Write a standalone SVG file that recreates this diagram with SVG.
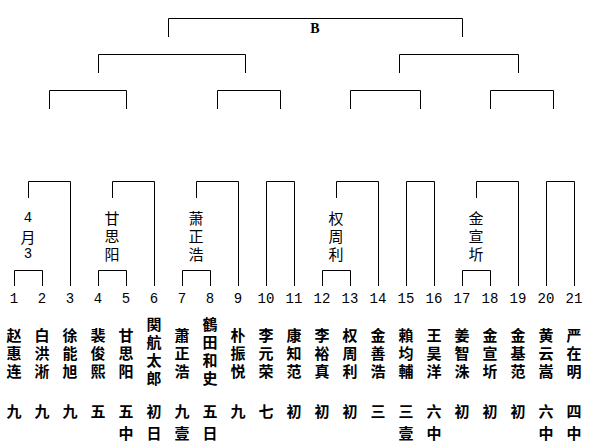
<svg xmlns="http://www.w3.org/2000/svg" width="596" height="441" viewBox="0 0 596 441">
<style>
.ln{fill:none;stroke:#000;stroke-width:1}
.num{font-family:"Liberation Mono","DejaVu Sans Mono",monospace;font-size:14px;text-anchor:middle;fill:#000}
.nm{font-family:"Noto Sans CJK SC","Noto Sans CJK JP",sans-serif;font-size:15px;font-weight:bold;text-anchor:middle;dominant-baseline:central;fill:#000}
.lb{font-family:"Noto Sans CJK SC","Noto Sans CJK JP",sans-serif;font-size:15px;text-anchor:middle;dominant-baseline:central;fill:#000}
.lbn{font-family:"Liberation Mono","DejaVu Sans Mono",monospace;font-size:14px;text-anchor:middle;dominant-baseline:central;fill:#000}
.b{font-family:"Liberation Serif",serif;font-size:14px;font-weight:bold;text-anchor:middle;dominant-baseline:central;fill:#000}
</style>
<rect width="596" height="441" fill="#fff"/>
<g id="connectors">
<path class="ln" d="M168.5,37V18.5H462.5V37"/>
<path class="ln" d="M98.5,73V54.5H245.5V73"/>
<path class="ln" d="M399.5,73V54.5H518.5V73"/>
<path class="ln" d="M49.5,109V90.5H126.5V109"/>
<path class="ln" d="M217.5,109V90.5H280.5V109"/>
<path class="ln" d="M350.5,109V90.5H420.5V109"/>
<path class="ln" d="M490.5,109V90.5H553.5V109"/>
<path class="ln" d="M14.5,286V270.5H42.5V286"/>
<path class="ln" d="M28.5,198V181.5H70.5V286"/>
<path class="ln" d="M98.5,286V270.5H126.5V286"/>
<path class="ln" d="M112.5,198V181.5H154.5V286"/>
<path class="ln" d="M182.5,286V270.5H210.5V286"/>
<path class="ln" d="M196.5,198V181.5H238.5V286"/>
<path class="ln" d="M266.5,286V181.5H294.5V286"/>
<path class="ln" d="M322.5,286V270.5H350.5V286"/>
<path class="ln" d="M336.5,198V181.5H378.5V286"/>
<path class="ln" d="M406.5,286V181.5H434.5V286"/>
<path class="ln" d="M462.5,286V270.5H490.5V286"/>
<path class="ln" d="M476.5,198V181.5H518.5V286"/>
<path class="ln" d="M546.5,286V181.5H574.5V286"/>
</g>
<g id="title"><text class="b" x="315" y="28">B</text></g>
<g id="labels">
<g id="label-a"><text class="lbn" x="28" y="218">4</text><text class="lb" x="28" y="236">月</text><text class="lbn" x="28" y="254">3</text></g>
<g id="label-b"><text class="lb" x="112" y="217">甘</text><text class="lb" x="112" y="235">思</text><text class="lb" x="112" y="253">阳</text></g>
<g id="label-c"><text class="lb" x="196" y="217">萧</text><text class="lb" x="196" y="235">正</text><text class="lb" x="196" y="253">浩</text></g>
<g id="label-d"><text class="lb" x="336" y="217">权</text><text class="lb" x="336" y="235">周</text><text class="lb" x="336" y="253">利</text></g>
<g id="label-e"><text class="lb" x="476" y="217">金</text><text class="lb" x="476" y="235">宣</text><text class="lb" x="476" y="253">圻</text></g>
</g>
<g id="numbers">
<text class="num" x="14" y="303">1</text><text class="num" x="42" y="303">2</text><text class="num" x="70" y="303">3</text><text class="num" x="98" y="303">4</text><text class="num" x="126" y="303">5</text><text class="num" x="154" y="303">6</text><text class="num" x="182" y="303">7</text><text class="num" x="210" y="303">8</text><text class="num" x="238" y="303">9</text><text class="num" x="266" y="303">10</text><text class="num" x="294" y="303">11</text><text class="num" x="322" y="303">12</text><text class="num" x="350" y="303">13</text><text class="num" x="378" y="303">14</text><text class="num" x="406" y="303">15</text><text class="num" x="434" y="303">16</text><text class="num" x="462" y="303">17</text><text class="num" x="490" y="303">18</text><text class="num" x="518" y="303">19</text><text class="num" x="546" y="303">20</text><text class="num" x="574" y="303">21</text>
</g>
<g id="p1"><text class="nm" x="14" y="334">赵</text><text class="nm" x="14" y="352">惠</text><text class="nm" x="14" y="370">连</text><text class="nm" x="14" y="410">九</text></g>
<g id="p2"><text class="nm" x="42" y="334">白</text><text class="nm" x="42" y="352">洪</text><text class="nm" x="42" y="370">淅</text><text class="nm" x="42" y="410">九</text></g>
<g id="p3"><text class="nm" x="70" y="334">徐</text><text class="nm" x="70" y="352">能</text><text class="nm" x="70" y="370">旭</text><text class="nm" x="70" y="410">九</text></g>
<g id="p4"><text class="nm" x="98" y="334">裴</text><text class="nm" x="98" y="352">俊</text><text class="nm" x="98" y="370">熙</text><text class="nm" x="98" y="410">五</text></g>
<g id="p5"><text class="nm" x="126" y="334">甘</text><text class="nm" x="126" y="352">思</text><text class="nm" x="126" y="370">阳</text><text class="nm" x="126" y="410">五</text><text class="nm" x="126" y="432">中</text></g>
<g id="p6"><text class="nm" x="154" y="323.5">関</text><text class="nm" x="154" y="341.5">航</text><text class="nm" x="154" y="359.5">太</text><text class="nm" x="154" y="377.5">郎</text><text class="nm" x="154" y="410">初</text><text class="nm" x="154" y="432">日</text></g>
<g id="p7"><text class="nm" x="182" y="334">蕭</text><text class="nm" x="182" y="352">正</text><text class="nm" x="182" y="370">浩</text><text class="nm" x="182" y="410">九</text><text class="nm" x="182" y="432">壹</text></g>
<g id="p8"><text class="nm" x="210" y="323.5">鶴</text><text class="nm" x="210" y="341.5">田</text><text class="nm" x="210" y="359.5">和</text><text class="nm" x="210" y="377.5">史</text><text class="nm" x="210" y="410">五</text><text class="nm" x="210" y="432">日</text></g>
<g id="p9"><text class="nm" x="238" y="334">朴</text><text class="nm" x="238" y="352">振</text><text class="nm" x="238" y="370">悦</text><text class="nm" x="238" y="410">九</text></g>
<g id="p10"><text class="nm" x="266" y="334">李</text><text class="nm" x="266" y="352">元</text><text class="nm" x="266" y="370">荣</text><text class="nm" x="266" y="410">七</text></g>
<g id="p11"><text class="nm" x="294" y="334">康</text><text class="nm" x="294" y="352">知</text><text class="nm" x="294" y="370">范</text><text class="nm" x="294" y="410">初</text></g>
<g id="p12"><text class="nm" x="322" y="334">李</text><text class="nm" x="322" y="352">裕</text><text class="nm" x="322" y="370">真</text><text class="nm" x="322" y="410">初</text></g>
<g id="p13"><text class="nm" x="350" y="334">权</text><text class="nm" x="350" y="352">周</text><text class="nm" x="350" y="370">利</text><text class="nm" x="350" y="410">初</text></g>
<g id="p14"><text class="nm" x="378" y="334">金</text><text class="nm" x="378" y="352">善</text><text class="nm" x="378" y="370">浩</text><text class="nm" x="378" y="410">三</text></g>
<g id="p15"><text class="nm" x="406" y="334">賴</text><text class="nm" x="406" y="352">均</text><text class="nm" x="406" y="370">輔</text><text class="nm" x="406" y="410">三</text><text class="nm" x="406" y="432">壹</text></g>
<g id="p16"><text class="nm" x="434" y="334">王</text><text class="nm" x="434" y="352">昊</text><text class="nm" x="434" y="370">洋</text><text class="nm" x="434" y="410">六</text><text class="nm" x="434" y="432">中</text></g>
<g id="p17"><text class="nm" x="462" y="334">姜</text><text class="nm" x="462" y="352">智</text><text class="nm" x="462" y="370">洙</text><text class="nm" x="462" y="410">初</text></g>
<g id="p18"><text class="nm" x="490" y="334">金</text><text class="nm" x="490" y="352">宣</text><text class="nm" x="490" y="370">圻</text><text class="nm" x="490" y="410">初</text></g>
<g id="p19"><text class="nm" x="518" y="334">金</text><text class="nm" x="518" y="352">基</text><text class="nm" x="518" y="370">范</text><text class="nm" x="518" y="410">初</text></g>
<g id="p20"><text class="nm" x="546" y="334">黄</text><text class="nm" x="546" y="352">云</text><text class="nm" x="546" y="370">嵩</text><text class="nm" x="546" y="410">六</text><text class="nm" x="546" y="432">中</text></g>
<g id="p21"><text class="nm" x="574" y="334">严</text><text class="nm" x="574" y="352">在</text><text class="nm" x="574" y="370">明</text><text class="nm" x="574" y="410">四</text><text class="nm" x="574" y="432">中</text></g>
</svg>
